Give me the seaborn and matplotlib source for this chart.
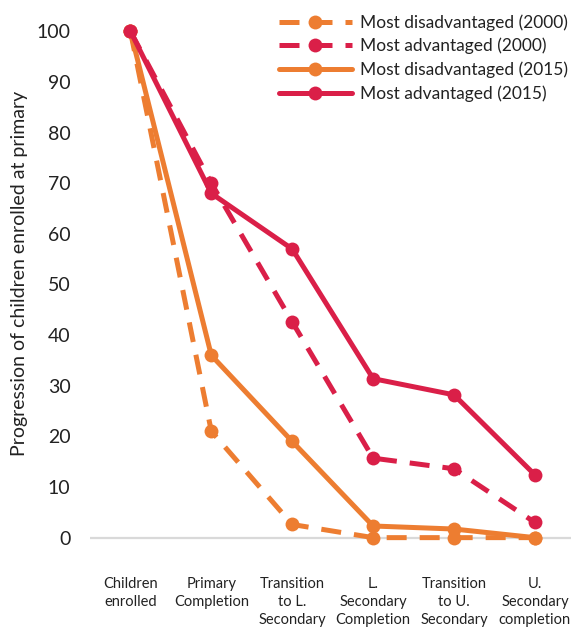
import matplotlib
matplotlib.use("Agg")
import matplotlib.pyplot as plt
import seaborn as sns
import pandas as pd

categories = ["Children\nenrolled", "Primary\nCompletion", "Transition\nto L.\nSecondary",
              "L.\nSecondary\nCompletion", "Transition\nto U.\nSecondary", "U.\nSecondary\ncompletion"]
disadv_2000 = [100, 21, 2.6, 0, 0, 0]
adv_2000 = [100, 70, 42.6, 15.7, 13.6, 3.0]
disadv_2015 = [100, 36, 19, 2.3, 1.7, 0]
adv_2015 = [100, 68, 57, 31.4, 28.2, 12.4]
series_names = ["Most disadvantaged (2000)", "Most advantaged (2000)",
                "Most disadvantaged (2015)", "Most advantaged (2015)"]
yticks = [0, 10, 20, 30, 40, 50, 60, 70, 80, 90, 100]

sns.set_theme(style="white")
plt.rcParams['font.family'] = ['Lato', 'DejaVu Sans']

ORANGE = "#ED7D31"
RED = "#DA1F48"
styles = [(ORANGE, (0, (4, 2.6))), (RED, (0, (4, 2.6))), (ORANGE, "-"), (RED, "-")]

rows = []
for name, vals in zip(series_names, [disadv_2000, adv_2000, disadv_2015, adv_2015]):
    for i, v in enumerate(vals):
        rows.append({"series": name, "x": i, "value": v})
df = pd.DataFrame(rows)

fig = plt.figure(figsize=(5.71, 6.29), dpi=100)
ax = fig.add_axes([0.1576, 0.105, 0.85, 0.8855])

ax.axhline(0, color="#d9d9d9", lw=1.6, zorder=0)
for name, (col, ls) in zip(series_names, styles):
    sub = df[df["series"] == name]
    sns.lineplot(data=sub, x="x", y="value", ax=ax, color=col, linestyle=ls,
                 marker="o", markersize=10, markeredgewidth=0, linewidth=3.6,
                 label=name, sort=False, clip_on=False)

ax.set_xlim(-0.5, 5.5)
ax.set_ylim(-5, 105)
ax.set_yticks(yticks)
ax.set_yticklabels([str(t) for t in yticks], fontsize=14, color="#222222")
ax.set_xticks(range(len(categories)))
ax.set_xticklabels(categories, fontsize=10.5, color="#222222", linespacing=1.35)
ax.tick_params(axis="y", length=0, pad=14)
ax.tick_params(axis="x", length=0, pad=10)
ax.set_xlabel("")
ax.set_ylabel("Progression of children enrolled at primary", fontsize=14, color="#222222")
ax.yaxis.set_label_coords(-0.128, 0.52)
for s in ax.spines.values():
    s.set_visible(False)

leg = ax.legend(loc="upper right", bbox_to_anchor=(1.0, 0.998), frameon=False, fontsize=12.5,
                handlelength=4.2, handletextpad=0.5, labelspacing=0.42, borderaxespad=0)
for t in leg.get_texts():
    t.set_color("#222222")

fig.savefig("out.png", dpi=100)
